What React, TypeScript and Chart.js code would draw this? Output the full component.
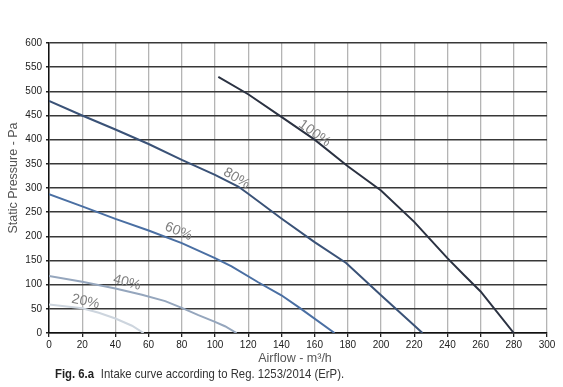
import React, { useEffect, useRef } from "react";
import { Chart, registerables } from "chart.js";

Chart.register(...registerables);

const seriesNames = ["100%", "80%", "60%", "40%", "20%"];
const airflow100 = [102, 120, 140, 160, 180, 200, 220, 240, 250, 260, 280];
const pressure100 = [530, 494, 447, 400, 345, 295, 230, 155, 120, 86, 0];
const airflow80 = [0, 20, 40, 60, 80, 100, 114, 120, 140, 160, 179, 200, 225];
const pressure80 = [480, 450, 421, 391, 358, 327, 303, 288, 237, 188, 145, 78, 0];
const airflow60 = [0, 20, 40, 60, 80, 100, 110, 126, 140, 151, 172];
const pressure60 = [287, 262, 236, 212, 186, 155, 138, 105, 78, 52, 0];
const airflow40 = [0, 20, 40, 56, 70, 80, 90, 100, 106, 113];
const pressure40 = [118, 106, 92, 79, 66, 52, 37, 23, 14, 0];
const airflow20 = [0, 20, 30, 40, 50, 57];
const pressure20 = [59, 51, 42, 30, 15, 0];

const labelX = [160, 113, 78, 47, 22];
const labelY = [413, 320, 210, 104, 65];
const labelAngle = [36, 31, 22, 15, 12];

const xTicksMin = 0, xTicksMax = 300, xStep = 20;
const yTicksMin = 0, yTicksMax = 600, yStep = 50;

const colors = ["#2b3242", "#3a5277", "#4a6fa3", "#95a6bd", "#cdd5de"];

const toPts = (xs: number[], ys: number[]) => xs.map((x, i) => ({ x, y: ys[i] }));

export default function App() {
  const ref = useRef<HTMLCanvasElement | null>(null);
  useEffect(() => {
    if (!ref.current) return;
    const data = [
      toPts(airflow100, pressure100),
      toPts(airflow80, pressure80),
      toPts(airflow60, pressure60),
      toPts(airflow40, pressure40),
      toPts(airflow20, pressure20),
    ];
    const textPlugin = {
      id: "texts",
      afterDatasetsDraw(chart: any) {
        const ctx = chart.ctx;
        const xs = chart.scales.x;
        const ys = chart.scales.y;
        ctx.save();
        ctx.fillStyle = "#808080";
        ctx.font = "14px 'Liberation Sans', Arial, sans-serif";
        ctx.textAlign = "center";
        ctx.textBaseline = "middle";
        seriesNames.forEach((n, i) => {
          ctx.save();
          ctx.translate(xs.getPixelForValue(labelX[i]), ys.getPixelForValue(labelY[i]));
          ctx.rotate((labelAngle[i] * Math.PI) / 180);
          ctx.fillText(n, 0, 0);
          ctx.restore();
        });
        ctx.restore();
      },
      afterDraw(chart: any) {
        const ctx = chart.ctx;
        const area = chart.chartArea;
        ctx.save();
        ctx.fillStyle = "#555";
        ctx.font = "12.5px 'Liberation Sans', Arial, sans-serif";
        ctx.textAlign = "center";
        ctx.textBaseline = "middle";
        ctx.save();
        ctx.translate(14, (area.top + area.bottom) / 2 - 10);
        ctx.rotate(-Math.PI / 2);
        ctx.fillText("Static Pressure - Pa", 0, 0);
        ctx.restore();
        ctx.textBaseline = "alphabetic";
        ctx.fillText("Airflow - m³/h", (area.left + area.right) / 2 - 3, 362);
        ctx.save();
        ctx.translate(55, 378);
        ctx.scale(0.84, 1);
        ctx.textAlign = "left";
        ctx.fillStyle = "#222";
        ctx.font = "bold 13.5px 'Liberation Sans', Arial, sans-serif";
        const b = "Fig. 6.a";
        ctx.fillText(b, 0, 0);
        const w = ctx.measureText(b).width;
        ctx.font = "13.5px 'Liberation Sans', Arial, sans-serif";
        ctx.fillStyle = "#333";
        ctx.fillText("Intake curve according to Reg. 1253/2014 (ErP).", w + 8, 0);
        ctx.restore();
        ctx.restore();
      },
    };
    const chart = new Chart(ref.current, {
      type: "line",
      data: {
        datasets: data.map((d, i) => ({
          label: seriesNames[i],
          data: d,
          borderColor: colors[i],
          borderWidth: 2,
          pointRadius: 0,
          tension: 0,
          fill: false,
        })),
      },
      options: {
        responsive: false,
        animation: false,
        parsing: true,
        layout: { padding: { left: 0, top: 43, right: 16, bottom: 0 } },
        plugins: { legend: { display: false }, tooltip: { enabled: false } },
        scales: {
          x: {
            type: "linear",
            min: xTicksMin,
            max: xTicksMax,
            ticks: {
              stepSize: xStep,
              color: "#222",
              font: { family: "'Liberation Sans', Arial, sans-serif", size: 10 },
              padding: 2,
              maxRotation: 0,
            },
            grid: { color: "#b4b4b4", lineWidth: 1.3, tickColor: "#222", tickLength: 4 },
            border: { color: "#111", width: 1.5 },
            afterFit(scale: any) {
              scale.height = 54;
            },
          },
          y: {
            min: yTicksMin,
            max: yTicksMax,
            ticks: {
              stepSize: yStep,
              color: "#222",
              font: { family: "'Liberation Sans', Arial, sans-serif", size: 10 },
              padding: 4,
            },
            grid: { color: "#383838", lineWidth: 1.4, tickColor: "#222", tickLength: 3 },
            border: { color: "#111", width: 1.5 },
            afterFit(scale: any) {
              scale.width = 49;
            },
          },
        },
      },
      plugins: [textPlugin],
    } as any);
    return () => chart.destroy();
  }, []);
  return (
    <div style={{ position: "absolute", left: 0, top: 0, width: 563, height: 387, background: "#fff" }}>
      <canvas ref={ref} width={563} height={387} style={{ display: "block" }} />
    </div>
  );
}
